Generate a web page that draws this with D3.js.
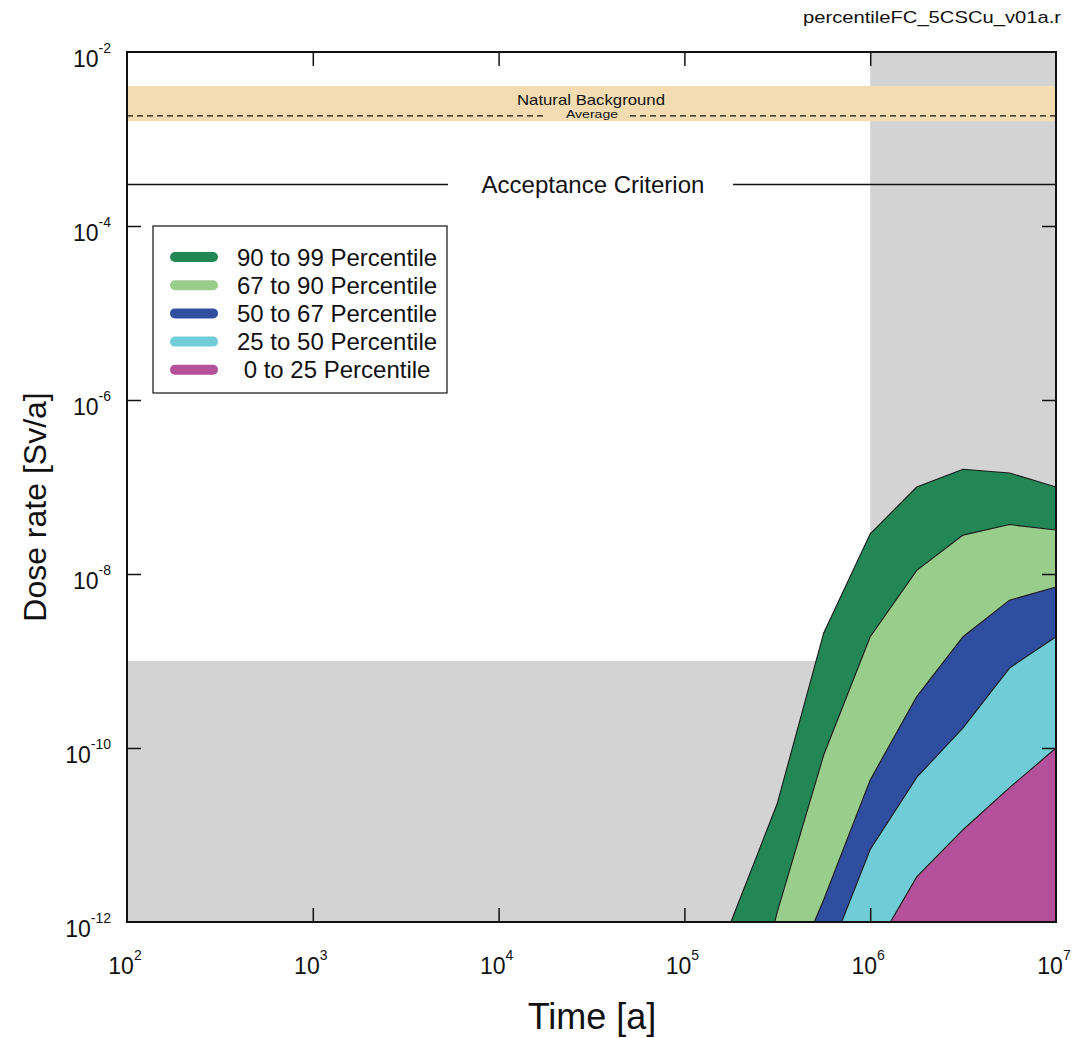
<!DOCTYPE html>
<html>
<head>
<meta charset="utf-8">
<script src="https://cdn.jsdelivr.net/npm/d3@7"></script>
<style>
  html, body { margin: 0; padding: 0; background: #fff; }
  svg text { font-family: "Liberation Sans", Arial, sans-serif; fill: #111; }
</style>
</head>
<body>
<svg id="chart" width="1074" height="1038"></svg>
<script>
// ---------------- data ----------------
const times = [1.0e5, 1.78e5, 3.16e5, 5.62e5, 1.0e6, 1.78e6, 3.16e6, 5.62e6, 1.0e7];
const p99 = [1e-14, 1e-12, 2.3e-11, 2.1e-9, 2.9e-8, 1.0e-7, 1.6e-7, 1.45e-7, 1.0e-7];
const p90 = [1e-15, 1e-14, 1.3e-12, 8.3e-11, 1.9e-9, 1.1e-8, 2.8e-8, 3.7e-8, 3.2e-8];
const p67 = [1e-16, 1e-15, 1e-13, 1.8e-12, 4.3e-11, 3.9e-10, 1.9e-9, 5.0e-9, 7.1e-9];
const p50 = [1e-16, 1e-15, 1e-14, 3e-13, 6.8e-12, 4.6e-11, 1.7e-10, 8.3e-10, 1.9e-9];
const p25 = [1e-17, 1e-16, 1e-15, 1e-14, 4e-13, 3.3e-12, 1.15e-11, 3.5e-11, 1.0e-10];

const bandLabels = ["90 to 99 Percentile", "67 to 90 Percentile", "50 to 67 Percentile", "25 to 50 Percentile", " 0 to 25 Percentile"];
const bandColors = ["#238755", "#98cd8c", "#304ea0", "#70cdd8", "#b5509b"];
const bandSeries = [p99, p90, p67, p50, p25];

const xTickValues = [1e2, 1e3, 1e4, 1e5, 1e6, 1e7];
const xTickExp = ["2", "3", "4", "5", "6", "7"];
const yTickValues = [1e-2, 1e-4, 1e-6, 1e-8, 1e-10, 1e-12];
const yTickExp = ["-2", "-4", "-6", "-8", "-10", "-12"];

const naturalBackground = [1.6e-3, 4.07e-3];
const naturalAverage = 1.84e-3;
const acceptanceCriterion = 3.0e-4;
const greyRightFrom = 1e6;       // shaded time region
const greyLowBelow = 1e-9;       // shaded dose region

// ---------------- layout ----------------
const L = 127, R = 1056, T = 52, B = 922;
const svg = d3.select("#chart");
const x = d3.scaleLog().domain([1e2, 1e7]).range([L, R]);
const y = d3.scaleLog().domain([1e-12, 1e-2]).range([B, T]);

svg.append("defs").append("clipPath").attr("id", "plotclip")
  .append("rect").attr("x", L).attr("y", T).attr("width", R - L).attr("height", B - T);

const plot = svg.append("g").attr("clip-path", "url(#plotclip)");

// grey regions
plot.append("rect").attr("x", x(greyRightFrom)).attr("y", T)
  .attr("width", R - x(greyRightFrom)).attr("height", B - T).attr("fill", "#d3d3d3");
plot.append("rect").attr("x", L).attr("y", y(greyLowBelow))
  .attr("width", x(greyRightFrom) - L).attr("height", B - y(greyLowBelow)).attr("fill", "#d3d3d3");

// natural background band
plot.append("rect").attr("x", L).attr("y", y(naturalBackground[1]))
  .attr("width", R - L).attr("height", y(naturalBackground[0]) - y(naturalBackground[1]))
  .attr("fill", "#f4dcb2");
// average dashed line, with gap for label
plot.append("line").attr("x1", L).attr("x2", 546).attr("y1", y(naturalAverage)).attr("y2", y(naturalAverage))
  .attr("stroke", "#111").attr("stroke-width", 1.2).attr("stroke-dasharray", "6,4");
plot.append("line").attr("x1", 630).attr("x2", R).attr("y1", y(naturalAverage)).attr("y2", y(naturalAverage))
  .attr("stroke", "#111").attr("stroke-width", 1.2).attr("stroke-dasharray", "6,4");
svg.append("text").attr("x", 591).attr("y", 105).attr("text-anchor", "middle")
  .attr("font-size", 15).attr("textLength", 148).attr("lengthAdjust", "spacingAndGlyphs")
  .text("Natural Background");
svg.append("text").attr("x", 592).attr("y", 118).attr("text-anchor", "middle")
  .attr("font-size", 11).attr("textLength", 52).attr("lengthAdjust", "spacingAndGlyphs")
  .text("Average");

// acceptance criterion
plot.append("line").attr("x1", L).attr("x2", 448).attr("y1", y(acceptanceCriterion)).attr("y2", y(acceptanceCriterion))
  .attr("stroke", "#111").attr("stroke-width", 1.6);
plot.append("line").attr("x1", 733).attr("x2", R).attr("y1", y(acceptanceCriterion)).attr("y2", y(acceptanceCriterion))
  .attr("stroke", "#111").attr("stroke-width", 1.6);
svg.append("text").attr("x", 593).attr("y", y(acceptanceCriterion) + 8.5).attr("text-anchor", "middle")
  .attr("font-size", 24).text("Acceptance Criterion");

// percentile bands
bandSeries.forEach((vals, i) => {
  const pts = times.map((t, j) => [t, vals[j]]);
  const area = d3.area().x(d => x(d[0])).y0(B + 50).y1(d => y(d[1]));
  const line = d3.line().x(d => x(d[0])).y(d => y(d[1]));
  plot.append("path").datum(pts).attr("d", area).attr("fill", bandColors[i]);
  plot.append("path").datum(pts).attr("d", line).attr("fill", "none")
    .attr("stroke", "#1a1a1a").attr("stroke-width", 1.1);
});

// ticks (inward)
const tickStyle = g => g.call(g => g.select(".domain").remove())
  .call(g => g.selectAll(".tick line").attr("stroke", "#111").attr("stroke-width", 1.5))
  .call(g => g.selectAll(".tick text").remove());
const innerX = [1e3, 1e4, 1e5, 1e6];
const innerY = [1e-4, 1e-6, 1e-8, 1e-10];
svg.append("g").attr("transform", `translate(0,${B})`)
  .call(d3.axisBottom(x).tickValues(innerX).tickSize(-14)).call(tickStyle);
svg.append("g").attr("transform", `translate(0,${T})`)
  .call(d3.axisTop(x).tickValues(innerX).tickSize(-14)).call(tickStyle);
svg.append("g").attr("transform", `translate(${L},0)`)
  .call(d3.axisLeft(y).tickValues(innerY).tickSize(-14)).call(tickStyle);
svg.append("g").attr("transform", `translate(${R},0)`)
  .call(d3.axisRight(y).tickValues(innerY).tickSize(-14)).call(tickStyle);

// frame
svg.append("rect").attr("x", L).attr("y", T).attr("width", R - L).attr("height", B - T)
  .attr("fill", "none").attr("stroke", "#111").attr("stroke-width", 2);

// x tick labels
xTickValues.forEach((v, i) => {
  const t = svg.append("text").attr("x", x(v) - 2).attr("y", 974).attr("text-anchor", "middle").attr("font-size", 23);
  t.append("tspan").text("10");
  t.append("tspan").attr("dy", -14).attr("font-size", 14).text(xTickExp[i]);
});
// y tick labels
yTickValues.forEach((v, i) => {
  const t = svg.append("text").attr("x", 111).attr("y", y(v) + 15).attr("text-anchor", "end").attr("font-size", 23);
  t.append("tspan").text("10");
  t.append("tspan").attr("dy", -14).attr("font-size", 14).text(yTickExp[i]);
});

// axis titles
svg.append("text").attr("x", 592).attr("y", 1029).attr("text-anchor", "middle")
  .attr("font-size", 36).text("Time [a]");
svg.append("text").attr("transform", "translate(46,507) rotate(-90)").attr("text-anchor", "middle")
  .attr("font-size", 32).text("Dose rate [Sv/a]");

// file tag
svg.append("text").attr("x", 1061).attr("y", 23).attr("text-anchor", "end")
  .attr("font-size", 17).attr("textLength", 258).attr("lengthAdjust", "spacingAndGlyphs")
  .text("percentileFC_5CSCu_v01a.r");

// legend
const lg = svg.append("g");
lg.append("rect").attr("x", 153).attr("y", 226).attr("width", 294).attr("height", 167)
  .attr("fill", "#fff").attr("stroke", "#111").attr("stroke-width", 1.2);
bandLabels.forEach((lab, i) => {
  const cy = 257 + i * 28.2;
  lg.append("line").attr("x1", 175).attr("x2", 213).attr("y1", cy).attr("y2", cy)
    .attr("stroke", bandColors[i]).attr("stroke-width", 10).attr("stroke-linecap", "round");
  lg.append("text").attr("x", 237).attr("y", cy + 8.5).attr("font-size", 24)
    .style("white-space", "pre").text(lab);
});
</script>
</body>
</html>
